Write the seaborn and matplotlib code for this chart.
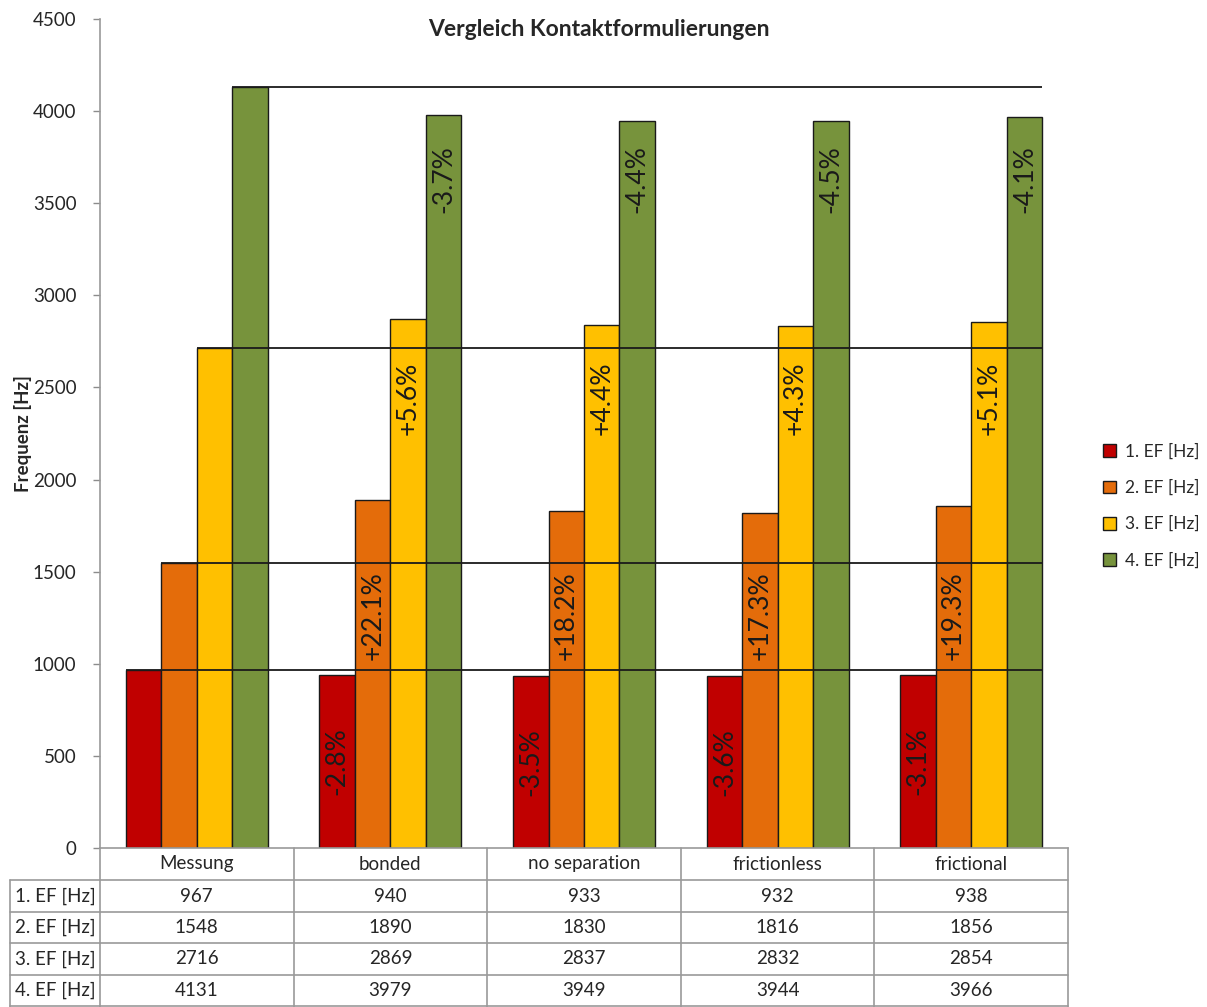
import numpy as np
import pandas as pd
import matplotlib
matplotlib.use("Agg")
import matplotlib.pyplot as plt
import matplotlib.transforms as mtransforms
from matplotlib.lines import Line2D
from matplotlib.patches import Patch
import seaborn as sns

# --- data -------------------------------------------------------------
categories = ["Messung", "bonded", "no separation", "frictionless", "frictional"]
series = ["1. EF [Hz]", "2. EF [Hz]", "3. EF [Hz]", "4. EF [Hz]"]
ef1 = [967, 940, 933, 932, 938]
ef2 = [1548, 1890, 1830, 1816, 1856]
ef3 = [2716, 2869, 2837, 2832, 2854]
ef4 = [4131, 3979, 3949, 3944, 3966]
# deviation from the measurement (simulation columns only)
dev1 = ["-2.8%", "-3.5%", "-3.6%", "-3.1%"]
dev2 = ["+22.1%", "+18.2%", "+17.3%", "+19.3%"]
dev3 = ["+5.6%", "+4.4%", "+4.3%", "+5.1%"]
dev4 = ["-3.7%", "-4.4%", "-4.5%", "-4.1%"]

values = [ef1, ef2, ef3, ef4]
devs = [dev1, dev2, dev3, dev4]
colors = ["#C00000", "#E46C0A", "#FFC000", "#77933C"]

df = pd.DataFrame({
    "Variante": categories * len(series),
    "Eigenfrequenz": np.repeat(series, len(categories)),
    "Frequenz": np.concatenate(values),
})

# --- style ------------------------------------------------------------
sns.set_theme(style="white")
plt.rcParams["font.family"] = ["Lato", "DejaVu Sans"]
FS = 13.5

W, H = 1207, 1007
fig = plt.figure(figsize=(W / 100, H / 100), dpi=100)
ax_l, ax_r, ax_b, ax_t = 100, 1068, 848, 19
ax = fig.add_axes([ax_l / W, 1 - ax_b / H, (ax_r - ax_l) / W, (ax_b - ax_t) / H])

sns.barplot(data=df, x="Variante", y="Frequenz", hue="Eigenfrequenz",
            hue_order=series, order=categories, palette=colors,
            width=0.733, gap=0, edgecolor="#1a1a1a", linewidth=1.0,
            saturation=1, legend=False, ax=ax, zorder=2)

ax.set_xlim(-0.5, len(categories) - 0.5)
ax.set_ylim(0, 4500)
ax.set_yticks(np.arange(0, 4501, 500))
ax.set_xticks([])
ax.set_xlabel("")
ax.set_ylabel("Frequenz [Hz]", fontsize=13.5, fontweight="bold")
ax.yaxis.set_label_coords(-68 / (ax_r - ax_l), 0.5)
ax.tick_params(axis="y", which="major", direction="out", length=5, width=1,
               color="#8c8c8c", labelsize=FS, pad=12, left=True)
for side in ("top", "right"):
    ax.spines[side].set_visible(False)
for side in ("left", "bottom"):
    ax.spines[side].set_color("#9a9a9a")
    ax.spines[side].set_linewidth(1.2)

# reference lines at the measured frequencies, from the Messung bar to the last bar
last_green = ax.containers[-1][-1]
x_end = last_green.get_x() + last_green.get_width()
for i, cont in enumerate(ax.containers):
    x_start = cont[0].get_x()
    ax.plot([x_start, x_end], [values[i][0], values[i][0]], color="#1a1a1a",
            lw=1.3, zorder=3, solid_capstyle="butt")

# percentage labels inside the simulation bars
label_levels = [None, 1260, 2440, 3632]
for i, cont in enumerate(ax.containers):
    for j, bar in enumerate(list(cont)[1:]):
        xc = bar.get_x() + bar.get_width() / 2
        yc = bar.get_height() / 2 if label_levels[i] is None else label_levels[i]
        ax.text(xc, yc, devs[i][j], rotation=90, ha="center", va="center",
                fontsize=19, color="#1a1a1a", zorder=4)

# title
fig.text(599 / W, 1 - 30 / H, "Vergleich Kontaktformulierungen", ha="center",
         va="center", fontsize=16.5, fontweight="bold")

# legend
handles = [Patch(facecolor=c, edgecolor="#1a1a1a", linewidth=1.0) for c in colors]
fig.legend(handles, series, loc="center left", bbox_to_anchor=(1096 / W, 1 - 506 / H),
           frameon=False, fontsize=12.5, handlelength=0.75, handleheight=0.75,
           handletextpad=0.5, labelspacing=1.15, borderaxespad=0)

# data table below the plot
trans = mtransforms.blended_transform_factory(ax.transData, fig.transFigure)
grid_c = "#9a9a9a"
row_edges = [848, 880, 912, 943, 975, 1006]
fy = lambda y: 1 - y / H
col_edges = [k - 0.5 for k in range(len(categories) + 1)]
for xe in col_edges:
    fig.add_artist(Line2D([xe, xe], [fy(848), fy(1007)], transform=trans,
                          color=grid_c, lw=1.2))
for y in row_edges[1:]:
    fig.add_artist(Line2D([10 / W, ax_l / W], [fy(y), fy(y)], color=grid_c, lw=1.2))
    fig.add_artist(Line2D([col_edges[0], col_edges[-1]], [fy(y), fy(y)],
                          transform=trans, color=grid_c, lw=1.2))
fig.add_artist(Line2D([10 / W, 10 / W], [fy(880), fy(1007)], color=grid_c, lw=1.2))

for j, cat in enumerate(categories):
    fig.text(j, fy(864), cat, transform=trans, ha="center", va="center", fontsize=FS)
for i, s in enumerate(series):
    yc = fy((row_edges[i + 1] + row_edges[i + 2]) / 2)
    fig.text(15 / W, yc, s, ha="left", va="center", fontsize=FS)
    for j in range(len(categories)):
        fig.text(j, yc, str(values[i][j]), transform=trans, ha="center",
                 va="center", fontsize=FS)

fig.savefig("out.png", dpi=100)
